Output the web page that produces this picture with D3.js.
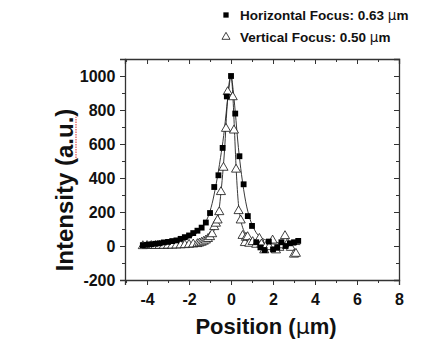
<!DOCTYPE html>
<html>
<head>
<meta charset="utf-8">
<script src="https://cdn.jsdelivr.net/npm/d3@7"></script>
<style>
  body { margin: 0; background: #fff; }
  text { font-family: "Liberation Sans", Arial, sans-serif; }
</style>
</head>
<body>
<script>
// horizontal focus (filled squares)
var hX = [-4.2,-4.0,-3.8,-3.6,-3.4,-3.2,-3.0,-2.8,-2.6,-2.4,-2.2,-2.0,-1.8,-1.6,-1.4,-1.2,-1.0,-0.8,-0.6,-0.4,-0.2,0,0.2,0.4,0.6,0.8,1.0,1.2,1.4,1.6,1.8,2.0,2.2,2.4,2.6,2.8,3.0,3.2];
var hY = [5,7,10,13,16,21,24,29,33,42,52,62,76,90,108,138,194,347,416,577,880,1000,779,528,363,176,118,22,-8,-24,26,-20,-8,22,0,16,22,30];

// vertical focus (open triangles)
var vX = [-4.2,-4.0,-3.8,-3.6,-3.4,-3.2,-3.0,-2.8,-2.6,-2.4,-2.2,-2.0,-1.8,-1.6,-1.5,-1.4,-1.3,-1.2,-1.1,-1.0,-0.9,-0.8,-0.72,-0.64,-0.56,-0.48,-0.36,-0.24,-0.16,0.08,0.14,0.24,0.36,0.46,0.55,0.66,0.71,0.79,0.87,1.03,1.2,1.35,1.45,1.58,1.7,1.82,1.98,2.14,2.3,2.45,2.57,2.69,2.85,3.0,3.09];
var vY = [0,1,1,1,2,2,3,3,4,5,6,8,10,12,16,20,26,33,42,53,70,112,132,151,200,318,461,690,906,876,680,450,206,151,60,18,49,53,14,24,8,43,10,-25,5,-6,33,-25,-10,5,59,14,-10,-50,-45];

// fitted curves
var hFitX = [-4.2,-3.5,-3,-2.5,-2,-1.6,-1.3,-1.1,-0.9,-0.7,-0.5,-0.35,-0.2,-0.1,0,0.1,0.2,0.35,0.5,0.7,0.9,1.1,1.3,1.6,2,2.5,3.3];
var hFitY = [6,11,18,28,48,80,125,170,250,370,520,650,820,930,1000,920,790,580,420,260,160,100,62,38,24,15,8];
var vFitX = [-4.2,-3,-2,-1.5,-1.2,-1.0,-0.85,-0.7,-0.6,-0.5,-0.4,-0.3,-0.2,-0.1,0,0.08,0.15,0.25,0.35,0.45,0.55,0.7,0.9,1.2,1.6,2.2,3.1];
var vFitY = [1,3,7,15,30,50,80,130,185,290,420,580,800,950,1000,900,720,440,250,160,110,70,45,28,18,10,5];

var xTicks = [-4,-2,0,2,4,6,8];
var yTicks = [-200,0,200,400,600,800,1000];
var legendLabels = ["Horizontal Focus: 0.63 ", "Vertical Focus: 0.50 "];

var svgWidth = 428, svgHeight = 350;
var pLeft = 125, pRight = 399, pTop = 59, pBottom = 280;

var svg = d3.select("body").append("svg")
  .attr("width", svgWidth)
  .attr("height", svgHeight);

var x = d3.scaleLinear().domain([-5.05, 8]).range([pLeft, pRight]);
var y = d3.scaleLinear().domain([-200, 1100]).range([pBottom, pTop]);

var axisColor = "#333";
var fmt = d => String(d);

// minor ticks
var xMinor = d3.range(-5, 9, 1).filter(d => d % 2 != 0);
var yMinor = d3.range(-100, 1101, 200);

// bottom axis
var gx = svg.append("g").attr("transform", "translate(0," + pBottom + ")")
  .call(d3.axisBottom(x).tickValues(xTicks).tickSize(5).tickFormat(fmt));
svg.append("g").attr("transform", "translate(0," + pBottom + ")")
  .call(d3.axisBottom(x).tickValues(xMinor).tickSize(3).tickFormat(""))
  .select(".domain").remove();

// left axis
var gy = svg.append("g").attr("transform", "translate(" + pLeft + ",0)")
  .call(d3.axisLeft(y).tickValues(yTicks).tickSize(5).tickFormat(fmt));
svg.append("g").attr("transform", "translate(" + pLeft + ",0)")
  .call(d3.axisLeft(y).tickValues(yMinor).tickSize(3).tickFormat(""))
  .select(".domain").remove();

// top axis (ticks inward)
svg.append("g").attr("transform", "translate(0," + pTop + ")")
  .call(d3.axisTop(x).tickValues(xTicks).tickSize(-5).tickFormat(""));
svg.append("g").attr("transform", "translate(0," + pTop + ")")
  .call(d3.axisTop(x).tickValues(xMinor).tickSize(-3).tickFormat(""))
  .select(".domain").remove();

// right axis (ticks inward)
svg.append("g").attr("transform", "translate(" + pRight + ",0)")
  .call(d3.axisRight(y).tickValues(yTicks).tickSize(-5).tickFormat(""));
svg.append("g").attr("transform", "translate(" + pRight + ",0)")
  .call(d3.axisRight(y).tickValues(yMinor).tickSize(-3).tickFormat(""))
  .select(".domain").remove();

svg.selectAll(".domain").attr("stroke", axisColor).attr("stroke-width", 1.3);
svg.selectAll(".tick line").attr("stroke", axisColor).attr("stroke-width", 1);

gx.selectAll("text")
  .attr("font-size", 16).attr("font-weight", "bold").attr("fill", "#111")
  .attr("dy", "1.05em");
gy.selectAll("text")
  .attr("font-size", 16).attr("font-weight", "bold").attr("fill", "#111")
  .attr("dx", "-0.1em");

// fit lines
var line = d3.line().x(d => x(d[0])).y(d => y(d[1])).curve(d3.curveMonotoneX);
svg.append("path")
  .datum(d3.zip(hFitX, hFitY))
  .attr("d", line)
  .attr("fill", "none").attr("stroke", "#222").attr("stroke-width", 0.9);
svg.append("path")
  .datum(d3.zip(vFitX, vFitY))
  .attr("d", line)
  .attr("fill", "none").attr("stroke", "#222").attr("stroke-width", 0.9);

var sq = d3.symbol().type(d3.symbolSquare).size(34);
var tri = d3.symbol().type(d3.symbolTriangle).size(36);

svg.append("g").selectAll("path")
  .data(d3.zip(vX, vY))
  .enter().append("path")
  .attr("d", tri)
  .attr("transform", d => "translate(" + x(d[0]) + "," + y(d[1]) + ")")
  .attr("fill", "white").attr("stroke", "#111").attr("stroke-width", 0.8);

svg.append("g").selectAll("path")
  .data(d3.zip(hX, hY))
  .enter().append("path")
  .attr("d", sq)
  .attr("transform", d => "translate(" + x(d[0]) + "," + y(d[1]) + ")")
  .attr("fill", "#000");

// legend
var legend = svg.append("g");
legend.append("path").attr("d", d3.symbol().type(d3.symbolSquare).size(28))
  .attr("transform", "translate(226,15)").attr("fill", "#000");
legend.append("path").attr("d", d3.symbol().type(d3.symbolTriangle).size(28))
  .attr("transform", "translate(226,37)").attr("fill", "white").attr("stroke", "#111").attr("stroke-width", 0.8);
legendLabels.forEach(function(lab, i) {
  var t = legend.append("text")
    .attr("x", 240).attr("y", 20 + i * 22)
    .attr("font-size", 13.5).attr("font-weight", "bold").attr("fill", "#111")
    .text(lab);
  t.append("tspan").attr("font-weight", "normal").attr("font-family", "DejaVu Sans").text("\u03bc");
  t.append("tspan").text("m");
});

// axis titles
var xt = svg.append("text")
  .attr("x", 266).attr("y", 334)
  .attr("text-anchor", "middle")
  .attr("font-size", 22).attr("font-weight", "bold").attr("fill", "#111")
  .text("Position (");
xt.append("tspan").attr("font-weight", "normal").attr("font-family", "DejaVu Sans").text("\u03bc");
xt.append("tspan").text("m)");

var ylab = "Intensity (a.u.)";
var yg = svg.append("g").attr("transform", "translate(73,190) rotate(-90)");
var yt = yg.append("text")
  .attr("text-anchor", "middle")
  .attr("font-size", 24).attr("font-weight", "bold").attr("fill", "#111")
  .text(ylab);

// spell-check squiggle under "a.u."
var node = yt.node();
var L = node.getComputedTextLength();
var i0 = ylab.indexOf("a.u.");
var s0 = -L / 2 + node.getSubStringLength(0, i0);
var s1 = s0 + node.getSubStringLength(i0, 4);
yg.append("line")
  .attr("x1", s0).attr("x2", s1).attr("y1", 3).attr("y2", 3)
  .attr("stroke", "#e05050").attr("stroke-width", 1.2)
  .attr("stroke-dasharray", "1.5,1");
</script>
</body>
</html>
